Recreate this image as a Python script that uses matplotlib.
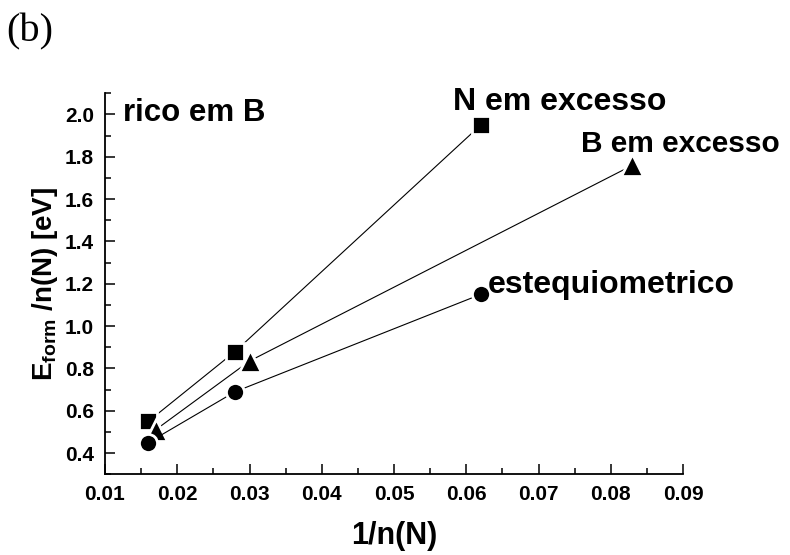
import numpy as np
import matplotlib
matplotlib.use('Agg')
import matplotlib.pyplot as plt
from matplotlib.ticker import MultipleLocator

plt.rcParams['font.family'] = ['Liberation Sans', 'DejaVu Sans']
plt.rcParams['font.weight'] = 'bold'
plt.rcParams['axes.labelweight'] = 'bold'
plt.rcParams['mathtext.fontset'] = 'custom'
plt.rcParams['mathtext.rm'] = 'Liberation Sans:bold'
plt.rcParams['mathtext.it'] = 'Liberation Sans:bold'
plt.rcParams['mathtext.bf'] = 'Liberation Sans:bold'

# data
x_N = [0.016, 0.028, 0.062]
y_N = [0.55, 0.88, 1.95]
x_B = [0.017, 0.030, 0.083]
y_B = [0.51, 0.835, 1.76]
x_est = [0.016, 0.028, 0.062]
y_est = [0.45, 0.69, 1.15]

fig = plt.figure(figsize=(7.9, 5.55), dpi=100)
ax = fig.add_axes([0.1329, 0.1454, 0.7317, 0.6865])

kw = dict(color='k', lw=0.8, mec='white', mew=2.0)
ax.plot(x_N, y_N, marker='s', ms=12.5, **kw)
ax.plot(x_B, y_B, marker='^', ms=16, **kw)
ax.plot(x_est, y_est, marker='o', ms=13, **kw)

ax.set_xlim(0.01, 0.09)
ax.set_ylim(0.3, 2.1)
ax.xaxis.set_minor_locator(MultipleLocator(0.005))
ax.yaxis.set_minor_locator(MultipleLocator(0.1))
yt = np.arange(0.4, 2.01, 0.2)
xt = np.arange(0.01, 0.0901, 0.01)
ax.set_yticks(yt)
ax.set_yticklabels(['%.1f' % v for v in yt])
ax.set_xticks(xt)
ax.set_xticklabels(['%.2f' % v for v in xt])

for s in ['top', 'right']:
    ax.spines[s].set_visible(False)
for s in ['left', 'bottom']:
    ax.spines[s].set_linewidth(1.3)
ax.tick_params(which='major', direction='in', length=7, width=1.1, labelsize=15, pad=8)
ax.tick_params(which='minor', direction='in', length=4, width=1.1)

ax.set_xlabel('1/n(N)', fontsize=22, labelpad=12)
ax.set_ylabel(r'E$_{\mathrm{form}}$ /n(N) [eV]', fontsize=20)
ax.yaxis.set_label_coords(-0.077, 0.5)

ax.text(0.01253, 1.968, 'rico em B', fontsize=22.5, ha='left', va='baseline')
ax.text(0.0581, 2.02, 'N em excesso', fontsize=23, ha='left', va='baseline', clip_on=False)
ax.text(0.0759, 1.824, 'B em excesso', fontsize=21.5, ha='left', va='baseline', clip_on=False)
ax.text(0.0630, 1.158, 'estequiometrico', fontsize=23, ha='left', va='baseline')

fig.text(0.008, 0.925, '(b)', fontsize=29, family='Liberation Serif', weight='normal')

fig.savefig('out.png', dpi=100)
